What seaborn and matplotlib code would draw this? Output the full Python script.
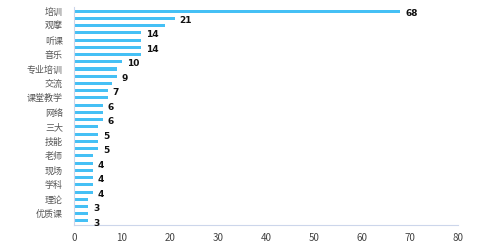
import matplotlib
matplotlib.use("Agg")
import matplotlib.pyplot as plt
import seaborn as sns
import pandas as pd

categories = ["培训", "研讨", "观摩", "讲座", "听课", "教研", "音乐", "实践",
              "专业培训", "示范", "交流", "名师", "课堂教学", "指导", "网络", "经验",
              "三大", "方法", "技能", "资源", "老师", "案例", "现场", "专家",
              "学科", "教材", "理论", "机会", "优质课", "学习"]
values = [68, 21, 19, 14, 14, 14, 14, 10, 9, 9, 8, 7, 7, 6, 6, 6,
          5, 5, 5, 5, 4, 4, 4, 4, 4, 4, 3, 3, 3, 3]
label_idx = [0, 1, 3, 5, 7, 9, 11, 13, 15, 17, 19, 21, 23, 25, 27, 29]
xticks = [0, 10, 20, 30, 40, 50, 60, 70, 80]

sns.set_theme(style="white")
plt.rcParams['font.family'] = ['Noto Sans CJK SC', 'DejaVu Sans']

df = pd.DataFrame({"cat": categories, "val": values})
fig = plt.figure(figsize=(5.0, 2.49), dpi=100)
ax = fig.add_axes([0.148, 0.098, 0.768, 0.872])
sns.barplot(data=df, y="cat", x="val", orient="h", color="#45c0f5",
            saturation=1, width=0.42, linewidth=0, ax=ax)

ax.set_xlim(0, 80)
ax.set_xticks(xticks)
ax.set_xticklabels([str(t) for t in xticks], fontsize=7, color="#444444")
ax.set_yticks(range(0, len(categories), 2))
ax.set_yticklabels(categories[::2], fontsize=6.5, color="#555555")
ax.set_xlabel("")
ax.set_ylabel("")
ax.tick_params(axis="y", length=5, width=0.8, color="#ccd6eb", pad=3)
ax.tick_params(axis="x", length=0, pad=6)
for s in ["top", "right"]:
    ax.spines[s].set_visible(False)
ax.spines["left"].set_color("#ccd6eb")
ax.spines["bottom"].set_color("#ccd6eb")
ax.spines["left"].set_linewidth(0.8)
ax.spines["bottom"].set_linewidth(0.8)

for i in label_idx:
    ax.text(values[i] + 1.0, i + 0.3, str(values[i]), fontsize=6.5,
            fontweight="bold", color="#111111", va="center", ha="left",
            family="DejaVu Sans")

fig.savefig("out.png", dpi=100)
